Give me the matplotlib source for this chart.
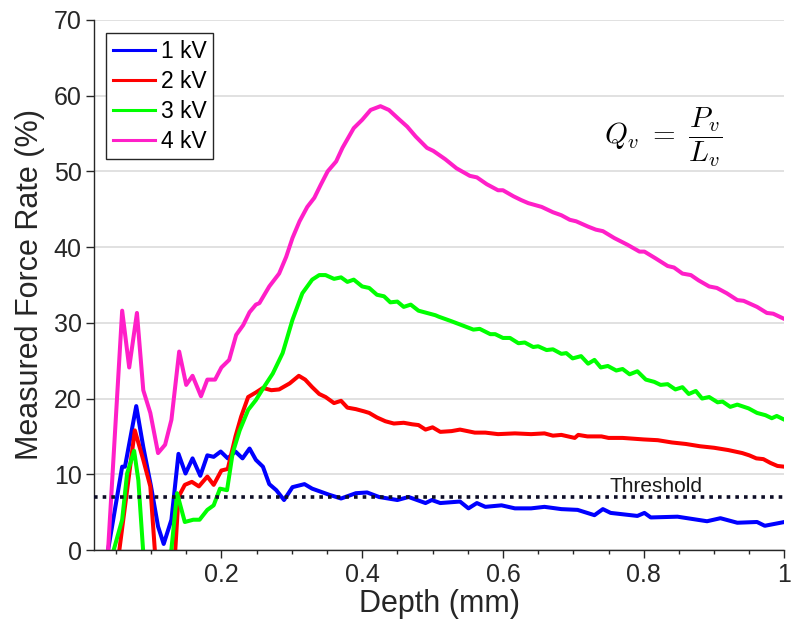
import matplotlib
matplotlib.use('Agg')
import matplotlib.pyplot as plt
from matplotlib.ticker import MultipleLocator

plt.rcParams['font.family'] = ['Liberation Sans', 'DejaVu Sans']
plt.rcParams['mathtext.fontset'] = 'cm'

# 数据
x_1kv = [0.039, 0.059, 0.063, 0.079, 0.089, 0.100, 0.110, 0.118, 0.129, 0.139, 0.149, 0.159,
         0.170, 0.180, 0.189, 0.199, 0.209, 0.220, 0.230, 0.240, 0.249, 0.259, 0.268, 0.278,
         0.289, 0.301, 0.318, 0.329, 0.353, 0.370, 0.391, 0.407, 0.424, 0.450, 0.466, 0.490,
         0.499, 0.511, 0.539, 0.551, 0.563, 0.575, 0.598, 0.617, 0.640, 0.659, 0.683, 0.706,
         0.730, 0.742, 0.753, 0.791, 0.801, 0.810, 0.848, 0.890, 0.909, 0.933, 0.961, 0.972, 1.0]
y_1kv = [0.0, 11.0, 11.0, 19.0, 13.6, 8.4, 3.1, 0.8, 4.0, 12.7, 10.1, 12.1,
         9.8, 12.5, 12.3, 13.0, 12.1, 13.0, 12.1, 13.4, 11.9, 11.0, 8.7, 7.9,
         6.6, 8.3, 8.7, 8.1, 7.3, 6.8, 7.5, 7.6, 7.0, 6.6, 7.0, 6.2,
         6.6, 6.2, 6.4, 5.5, 6.2, 5.7, 5.9, 5.5, 5.5, 5.7, 5.4, 5.3,
         4.6, 5.4, 4.9, 4.5, 4.9, 4.3, 4.4, 3.8, 4.2, 3.6, 3.7, 3.2, 3.7]

x_2kv = [0.055, 0.077, 0.089, 0.099, 0.113, 0.128, 0.139, 0.148, 0.158, 0.168, 0.180, 0.189,
         0.200, 0.209, 0.220, 0.228, 0.238, 0.249, 0.259, 0.271, 0.282, 0.297, 0.310, 0.319,
         0.329, 0.339, 0.348, 0.360, 0.370, 0.379, 0.391, 0.403, 0.410, 0.421, 0.433, 0.445,
         0.459, 0.471, 0.480, 0.490, 0.500, 0.511, 0.527, 0.539, 0.560, 0.575, 0.593, 0.617,
         0.640, 0.659, 0.671, 0.683, 0.702, 0.707, 0.72, 0.74, 0.75, 0.77, 0.80, 0.82,
         0.84, 0.86, 0.88, 0.90, 0.92, 0.94, 0.95, 0.96, 0.97, 0.98, 0.99, 1.0]
y_2kv = [0.0, 15.8, 11.9, 8.4, -10.0, -10.0, 7.0, 8.6, 9.0, 8.4, 9.7, 8.6,
         10.5, 10.7, 15.0, 17.6, 20.2, 20.8, 21.4, 21.1, 21.2, 22.0, 23.0, 22.5,
         21.5, 20.6, 20.2, 19.4, 19.7, 18.8, 18.6, 18.3, 18.1, 17.5, 17.0, 16.7,
         16.8, 16.6, 16.5, 15.9, 16.2, 15.6, 15.7, 15.9, 15.5, 15.5, 15.3, 15.4,
         15.3, 15.4, 15.1, 15.2, 14.8, 15.2, 15.0, 15.0, 14.8, 14.8, 14.6, 14.5,
         14.2, 14.0, 13.7, 13.5, 13.2, 12.8, 12.5, 12.1, 12.0, 11.5, 11.1, 11.0]

x_3kv = [0.047, 0.059, 0.066, 0.076, 0.082, 0.096, 0.118, 0.137, 0.148, 0.160, 0.169, 0.180,
         0.189, 0.198, 0.208, 0.216, 0.226, 0.238, 0.249, 0.261, 0.273, 0.287, 0.301, 0.315,
         0.329, 0.339, 0.348, 0.360, 0.370, 0.379, 0.388, 0.400, 0.410, 0.421, 0.431, 0.440,
         0.450, 0.459, 0.469, 0.480, 0.504, 0.509, 0.527, 0.544, 0.558, 0.567, 0.582, 0.589,
         0.600, 0.610, 0.622, 0.631, 0.643, 0.650, 0.662, 0.671, 0.683, 0.690, 0.699, 0.711,
         0.721, 0.730, 0.739, 0.749, 0.761, 0.770, 0.780, 0.791, 0.803, 0.815, 0.824, 0.834,
         0.845, 0.855, 0.864, 0.874, 0.883, 0.893, 0.905, 0.912, 0.923, 0.933, 0.949, 0.961,
         0.973, 0.982, 0.989, 1.0]
y_3kv = [0.0, 4.0, 10.1, 13.1, 9.2, -10.0, -10.0, 7.5, 3.7, 4.0, 4.0, 5.3,
         5.9, 8.1, 7.9, 12.8, 15.8, 18.5, 19.8, 21.6, 23.3, 26.0, 30.4, 33.9,
         35.7, 36.3, 36.3, 35.8, 36.0, 35.4, 35.7, 34.8, 34.6, 33.7, 33.5, 32.7,
         32.8, 32.1, 32.4, 31.6, 31.0, 30.8, 30.2, 29.6, 29.1, 29.2, 28.5, 28.5,
         28.0, 28.0, 27.3, 27.4, 26.8, 26.9, 26.4, 26.5, 25.9, 26.0, 25.3, 25.6,
         24.6, 25.1, 24.1, 24.3, 23.7, 23.9, 23.2, 23.6, 22.5, 22.2, 21.8, 21.9,
         21.2, 21.5, 20.6, 21.0, 20.0, 20.2, 19.5, 19.6, 18.9, 19.2, 18.7, 18.1,
         17.8, 17.4, 17.7, 17.2]

x_4kv = [0.039, 0.059, 0.069, 0.080, 0.089, 0.099, 0.110, 0.120, 0.129, 0.140, 0.150, 0.159,
         0.171, 0.180, 0.191, 0.200, 0.211, 0.221, 0.231, 0.240, 0.249, 0.254, 0.268, 0.282,
         0.292, 0.301, 0.311, 0.322, 0.332, 0.341, 0.351, 0.363, 0.372, 0.388, 0.400, 0.412,
         0.426, 0.438, 0.452, 0.464, 0.476, 0.492, 0.501, 0.518, 0.534, 0.553, 0.563, 0.577,
         0.593, 0.600, 0.615, 0.626, 0.636, 0.655, 0.671, 0.683, 0.695, 0.704, 0.721, 0.732,
         0.742, 0.758, 0.777, 0.794, 0.801, 0.817, 0.834, 0.843, 0.855, 0.867, 0.878, 0.893,
         0.904, 0.918, 0.933, 0.942, 0.961, 0.975, 0.984, 1.0]
y_4kv = [0.0, 31.6, 24.1, 31.3, 21.1, 18.1, 12.8, 13.9, 17.2, 26.2, 21.8, 23.0,
         20.3, 22.5, 22.5, 24.1, 25.1, 28.4, 29.7, 31.4, 32.4, 32.6, 34.8, 36.5,
         38.7, 41.2, 43.4, 45.3, 46.5, 48.2, 50.0, 51.3, 53.1, 55.7, 56.8, 58.1,
         58.6, 58.1, 56.9, 55.9, 54.6, 53.1, 52.7, 51.6, 50.4, 49.4, 49.2, 48.3,
         47.5, 47.5, 46.7, 46.2, 45.8, 45.3, 44.6, 44.2, 43.6, 43.4, 42.7, 42.3,
         42.1, 41.2, 40.3, 39.4, 39.4, 38.5, 37.5, 37.3, 36.5, 36.3, 35.6, 34.8,
         34.6, 33.9, 33.0, 32.9, 32.1, 31.3, 31.2, 30.5]

labels = ['1 kV', '2 kV', '3 kV', '4 kV']
colors = ['#0000ff', '#ff0000', '#00ff00', '#ff1fc8']
threshold = 7.0

fig = plt.figure(figsize=(7.92, 6.4), dpi=100)
ax = fig.add_axes([0.1187, 0.1406, 0.8718, 0.8284])

series = [(x_1kv, y_1kv), (x_2kv, y_2kv), (x_3kv, y_3kv), (x_4kv, y_4kv)]
for (xs, ys), lab, c in zip(series, labels, colors):
    ax.plot(xs, ys, color=c, lw=2.9, label=lab, solid_joinstyle='round')

ax.axhline(threshold, color='#0d0d26', lw=2.6, linestyle=(0, (1, 1.4)), zorder=5)
ax.text(0.818, 7.6, 'Threshold', fontsize=15, ha='center', va='baseline', color='#1a1a1a')
ax.text(0.828, 54.5, r'$Q_v\ =\ \dfrac{P_v}{L_v}$', fontsize=21, ha='center', va='center')

ax.set_xlim(0.019, 1.0)
ax.set_ylim(0, 70)
ax.set_xticks([0.2, 0.4, 0.6, 0.8, 1.0])
ax.set_xticklabels(['0.2', '0.4', '0.6', '0.8', '1'])
ax.xaxis.set_minor_locator(MultipleLocator(0.05))
ax.set_yticks(range(0, 71, 10))
ax.yaxis.grid(True, color='#dcdcdc', lw=1.2)
ax.set_axisbelow(True)

for s in ['top', 'right']:
    ax.spines[s].set_visible(False)
for s in ['left', 'bottom']:
    ax.spines[s].set_color('#262626')
    ax.spines[s].set_linewidth(1.0)

ax.tick_params(axis='both', which='major', labelsize=18, colors='#262626', length=5.5, width=1.0)
ax.tick_params(axis='x', which='minor', length=3, width=1.0, colors='#262626')
ax.set_xlabel('Depth (mm)', fontsize=22, color='#262626', labelpad=2)
ax.set_ylabel('Measured Force Rate (%)', fontsize=22, color='#262626', labelpad=6)

leg = ax.legend(loc='upper left', bbox_to_anchor=(0.017, 0.975), borderaxespad=0,
                fontsize=16.5, handlelength=1.85, handletextpad=0.25, labelspacing=0.3,
                borderpad=0.3, fancybox=False, framealpha=1)
leg.get_frame().set_edgecolor('#262626')
leg.get_frame().set_linewidth(1.0)
for line in leg.get_lines():
    line.set_linewidth(2.2)

plt.savefig('out.png', dpi=100)
